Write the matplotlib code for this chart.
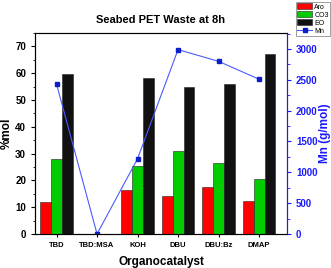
import numpy as np
import matplotlib
matplotlib.use('Agg')
import matplotlib.pyplot as plt
from matplotlib.ticker import MultipleLocator

catalysts = ['TBD', 'TBD:MSA', 'KOH', 'DBU', 'DBU:Bz', 'DMAP']
aro = [12.0, 0.0, 16.3, 14.0, 17.5, 12.3]
co3 = [28.0, 0.0, 25.4, 31.0, 26.3, 20.4]
eo = [59.7, 0.0, 58.3, 55.0, 56.0, 67.2]
mn = [2430, 0, 1220, 2990, 2800, 2510]

plt.rcParams['font.family'] = ['Liberation Sans', 'DejaVu Sans']

fig = plt.figure(figsize=(3.31, 2.68), dpi=100)
ax = fig.add_axes([0.106, 0.127, 0.761, 0.75])
x = np.arange(len(catalysts))
w = 0.27

ax.bar(x - w, aro, w, color='#ff0000', edgecolor='#222222', linewidth=0.4, label='Aro')
ax.bar(x, co3, w, color='#00cc00', edgecolor='#222222', linewidth=0.4, label='CO3')
ax.bar(x + w, eo, w, color='#111111', edgecolor='#222222', linewidth=0.4, label='EO')

ax.set_xlim(-0.53, 5.69)
ax.set_ylim(0, 75)
ax.yaxis.set_major_locator(MultipleLocator(10))
ax.yaxis.set_minor_locator(MultipleLocator(5))
ax.set_xticks(x)
ax.set_xticklabels(catalysts, fontsize=5.5, fontweight='bold')
ax.tick_params(axis='y', labelsize=7, width=0.8, length=3)
ax.tick_params(axis='y', which='minor', length=1.8, width=0.6)
ax.tick_params(axis='x', length=2.5, width=0.8)
for lbl in ax.get_yticklabels():
    lbl.set_fontweight('bold')
ax.set_ylabel('%mol', fontsize=8.5, fontweight='bold', labelpad=2)
ax.set_xlabel('Organocatalyst', fontsize=8.5, fontweight='bold', labelpad=5)
ax.set_title('Seabed PET Waste at 8h', fontsize=8, fontweight='bold', pad=7)
for s in ax.spines.values():
    s.set_linewidth(0.8)
    s.set_color('#333333')

ax2 = ax.twinx()
ax2.plot(x, mn, color='#4a5cff', linewidth=0.8, marker='s', markersize=3,
         markerfacecolor='#0a1fc8', markeredgecolor='#0a1fc8', label='Mn')
ax2.set_ylim(0, 3260)
ax2.yaxis.set_major_locator(MultipleLocator(500))
ax2.yaxis.set_minor_locator(MultipleLocator(250))
ax2.tick_params(axis='y', colors='#1a1aff', labelsize=7, width=0.8, length=3)
ax2.tick_params(axis='y', which='minor', colors='#1a1aff', length=1.8, width=0.6)
for lbl in ax2.get_yticklabels():
    lbl.set_fontweight('bold')
ax2.spines['right'].set_color('#1a1aff')
ax2.spines['right'].set_linewidth(0.8)
ax2.set_ylabel('Mn (g/mol)', fontsize=8.5, fontweight='bold', color='#1a1aff', labelpad=1)

h1, l1 = ax.get_legend_handles_labels()
h2, l2 = ax2.get_legend_handles_labels()
leg = fig.legend(h1 + h2, l1 + l2, loc='upper right', bbox_to_anchor=(1.0, 0.995),
                 fontsize=5, frameon=True, fancybox=False, edgecolor='#555555',
                 handlelength=2.2, handleheight=0.9, borderpad=0.2, labelspacing=0.1,
                 handletextpad=0.3, borderaxespad=0.1)
leg.get_frame().set_linewidth(0.5)

fig.savefig('out.png', dpi=100, facecolor='white')
